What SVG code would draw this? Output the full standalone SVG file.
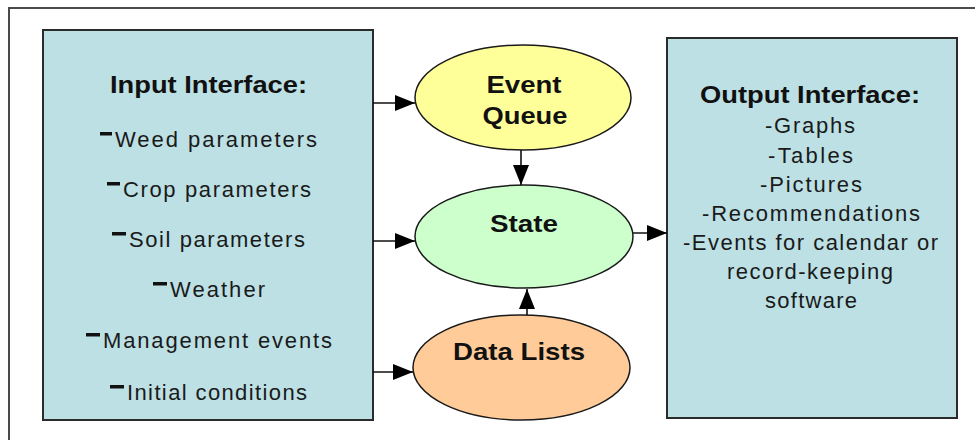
<svg xmlns="http://www.w3.org/2000/svg" width="975" height="440" viewBox="0 0 975 440">
  <defs>
    <style>
      .frame { fill: #ffffff; stroke: #4a4a4a; stroke-width: 2; }
      .panel { fill: #bce0e4; stroke: #2b2b2b; stroke-width: 2; }
      .node { stroke: #1a1a1a; stroke-width: 1.5; }
      .title { font-family: "Liberation Sans", Arial, sans-serif; font-weight: bold; font-size: 24px; fill: #111; }
      .item { font-family: "Liberation Sans", Arial, sans-serif; font-size: 22px; fill: #1a1a1a; }
      .mid { text-anchor: middle; }
      .bullet { fill: #111; }
      .wire { stroke: #111; stroke-width: 1.6; fill: none; marker-end: url(#head); }
    </style>
    <marker id="head" markerUnits="userSpaceOnUse" markerWidth="20" markerHeight="16" refX="20" refY="8" orient="auto">
      <path d="M0,0 L20,8 L0,16 Z" fill="#000"/>
    </marker>
  </defs>

  <!-- page frame -->
  <rect class="frame" x="9" y="8" width="990" height="460"/>

  <!-- input panel -->
  <g id="input-interface">
    <rect class="panel" x="43" y="30" width="330" height="390"/>
    <text class="title" x="110" y="93" textLength="197" lengthAdjust="spacingAndGlyphs">Input Interface:</text>
    <rect class="bullet" x="100" y="132" width="12" height="3.5"/>
    <text class="item" x="115" y="147" textLength="202" lengthAdjust="spacing">Weed parameters</text>
    <rect class="bullet" x="107" y="182" width="13" height="3.5"/>
    <text class="item" x="123" y="197" textLength="188" lengthAdjust="spacing">Crop parameters</text>
    <rect class="bullet" x="112" y="232" width="14" height="3.5"/>
    <text class="item" x="129" y="247" textLength="176" lengthAdjust="spacing">Soil parameters</text>
    <rect class="bullet" x="153" y="282" width="14" height="3.5"/>
    <text class="item" x="170" y="297" textLength="95" lengthAdjust="spacing">Weather</text>
    <rect class="bullet" x="86" y="333" width="14" height="3.5"/>
    <text class="item" x="103" y="348" textLength="229" lengthAdjust="spacing">Management events</text>
    <rect class="bullet" x="110" y="385" width="14" height="3.5"/>
    <text class="item" x="127" y="400" textLength="180" lengthAdjust="spacing">Initial conditions</text>
  </g>

  <!-- model nodes -->
  <g id="event-queue">
    <ellipse class="node" cx="523" cy="97.5" rx="108" ry="52.5" fill="#ffff99"/>
    <text class="title mid" x="524" y="93" textLength="75" lengthAdjust="spacingAndGlyphs">Event</text>
    <text class="title mid" x="525" y="124" textLength="85" lengthAdjust="spacingAndGlyphs">Queue</text>
  </g>

  <g id="state">
    <ellipse class="node" cx="524" cy="236.5" rx="109" ry="51.5" fill="#ccffcc"/>
    <text class="title mid" x="524" y="232" textLength="68" lengthAdjust="spacingAndGlyphs">State</text>
  </g>

  <g id="data-lists">
    <ellipse class="node" cx="521.5" cy="367.5" rx="108.5" ry="52.5" fill="#ffcc99"/>
    <text class="title mid" x="519" y="360" textLength="132" lengthAdjust="spacingAndGlyphs">Data Lists</text>
  </g>

  <!-- output panel -->
  <g id="output-interface">
    <rect class="panel" x="667" y="38" width="290" height="380"/>
    <text class="title mid" x="810" y="103" textLength="220" lengthAdjust="spacingAndGlyphs">Output Interface:</text>
    <text class="item mid" x="810" y="133" textLength="90" lengthAdjust="spacing">-Graphs</text>
    <text class="item mid" x="810.5" y="163" textLength="85" lengthAdjust="spacing">-Tables</text>
    <text class="item mid" x="811" y="192" textLength="102" lengthAdjust="spacing">-Pictures</text>
    <text class="item mid" x="811" y="221" textLength="218" lengthAdjust="spacing">-Recommendations</text>
    <text class="item mid" x="810.5" y="250" textLength="255" lengthAdjust="spacing">-Events for calendar or</text>
    <text class="item mid" x="810" y="279" textLength="166" lengthAdjust="spacing">record-keeping</text>
    <text class="item mid" x="811" y="308" textLength="92" lengthAdjust="spacing">software</text>
  </g>

  <!-- connectors -->
  <g id="connectors">
    <line class="wire" x1="373" y1="103" x2="415" y2="103"/>
    <line class="wire" x1="373" y1="241" x2="415" y2="241"/>
    <line class="wire" x1="373" y1="372" x2="413" y2="372"/>
    <line class="wire" x1="521" y1="150" x2="521" y2="185"/>
    <line class="wire" x1="527" y1="315" x2="527" y2="289"/>
    <line class="wire" x1="633" y1="233" x2="667" y2="233"/>
  </g>
</svg>
